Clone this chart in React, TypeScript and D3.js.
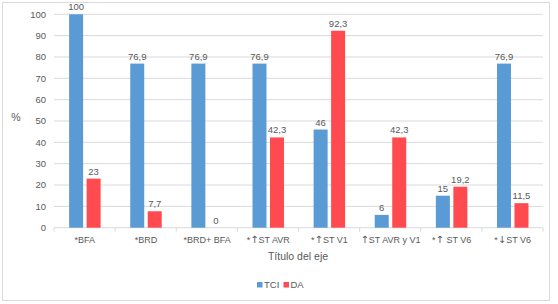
import React from "react";
import * as d3 from "d3";

const categories = ["*BFA", "*BRD", "*BRD+ BFA", "*↑ST AVR", "*↑ST V1", "↑ST AVR y V1", "*↑ ST V6", "*↓ST V6"];
const tciValues = [100, 76.9, 76.9, 76.9, 46, 6, 15, 76.9];
const daValues = [23, 7.7, 0, 42.3, 92.3, 42.3, 19.2, 11.5];
const seriesNames = ["TCI", "DA"];
const yTicks = [0, 10, 20, 30, 40, 50, 60, 70, 80, 90, 100];

const W = 558;
const H = 304;
const left = 54;
const right = 543;
const top = 14.3;
const bottom = 227.7;
const colors = ["#5B9BD5", "#FF4B4F"];
const textColor = "#595959";
const font = "'Liberation Sans', Arial, sans-serif";

const fmt = (v: number) => String(v).replace(".", ",");

function Label({ text }: { text: string }) {
  const parts = text.split(/([↑↓])/).filter((p) => p.length > 0);
  return (
    <>
      {parts.map((p, i) =>
        p === "↑" || p === "↓" ? (
          <tspan key={i} fontFamily="'DejaVu Sans', sans-serif" fontSize={10}>
            {p}
          </tspan>
        ) : (
          <tspan key={i}>{p}</tspan>
        )
      )}
    </>
  );
}

export default function App() {
  const x = d3.scaleBand<string>().domain(categories).range([left, right]).paddingInner(0).paddingOuter(0);
  const y = d3.scaleLinear().domain([0, 100]).range([bottom, top]);
  const barW = 14;
  const gap = 3.5;
  const series = [tciValues, daValues];

  return (
    <svg width={W} height={H} style={{ position: "absolute", left: 0, top: 0 }} fontFamily={font}>
      <rect x={0} y={0} width={W} height={H} fill="#ffffff" />
      <rect x={2.5} y={2.5} width={547} height={298} fill="none" stroke="#d9d9d9" strokeWidth={1} />
      {yTicks.map((t) => (
        <g key={t}>
          {t > 0 && <line x1={left} x2={right} y1={y(t)} y2={y(t)} stroke="#d9d9d9" strokeWidth={1} />}
          <text x={46} y={y(t)} dy="0.35em" textAnchor="end" fontSize={9.5} fill={textColor}>
            {t}
          </text>
        </g>
      ))}
      <line x1={left} x2={right} y1={y(0)} y2={y(0)} stroke="#d9d9d9" strokeWidth={1} />
      {d3.range(categories.length + 1).map((i) => {
        const xx = left + i * x.bandwidth();
        return <line key={i} x1={xx} x2={xx} y1={y(0)} y2={y(0) + 4} stroke="#d9d9d9" strokeWidth={1} />;
      })}
      {categories.map((c, i) => {
        const cx = (x(c) as number) + x.bandwidth() / 2 + 0.3;
        return (
          <g key={c}>
            {series.map((vals, s) => {
              const bx = s === 0 ? cx - gap / 2 - barW : cx + gap / 2;
              const v = vals[i];
              return (
                <g key={s}>
                  {v > 0 && (
                    <rect x={bx} y={y(v)} width={barW} height={y(0) - y(v)} fill={colors[s]} />
                  )}
                  <text x={bx + barW / 2} y={y(v) - 4} textAnchor="middle" fontSize={9.5} fill={textColor}>
                    {fmt(v)}
                  </text>
                </g>
              );
            })}
            <text x={cx} y={240} dy="0.35em" textAnchor="middle" fontSize={9} fill={textColor}>
              <Label text={c} />
            </text>
          </g>
        );
      })}
      <text x={298} y={256.5} dy="0.35em" textAnchor="middle" fontSize={10.5} fill={textColor}>
        Título del eje
      </text>
      <text x={16} y={117} dy="0.35em" textAnchor="middle" fontSize={10.5} fill={textColor}>
        %
      </text>
      {seriesNames.map((n, s) => {
        const lx = s === 0 ? 257 : 283.5;
        return (
          <g key={n}>
            <rect x={lx} y={282} width={5.5} height={5.5} fill={colors[s]} />
            <text x={lx + 7} y={285} dy="0.35em" fontSize={9.5} fill={textColor}>
              {n}
            </text>
          </g>
        );
      })}
    </svg>
  );
}
